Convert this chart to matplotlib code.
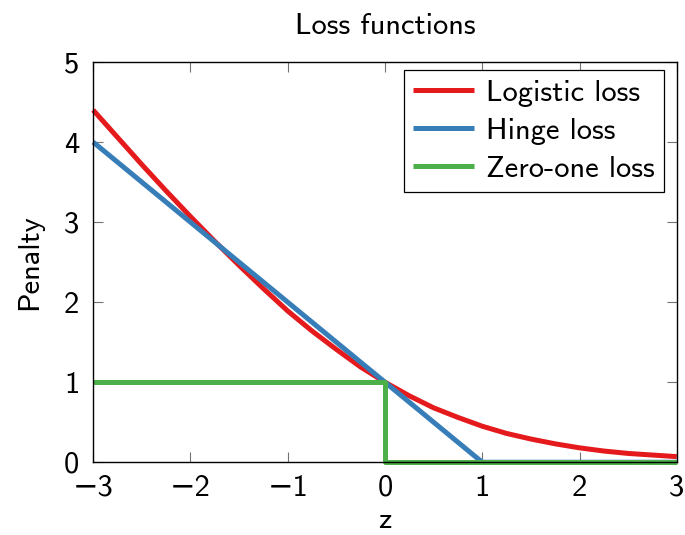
import matplotlib
matplotlib.use('Agg')
from matplotlib import pyplot as plt

plt.rcParams['font.family'] = ['cmss10', 'DejaVu Sans']
plt.rcParams['axes.unicode_minus'] = True
plt.rcParams['mathtext.fontset'] = 'cm'

# logistic loss
z_log = [-3, -2.75, -2.5, -2.25, -2, -1.75, -1.5, -1.25, -1, -0.75, -0.5, -0.25, 0,
         0.25, 0.5, 0.75, 1, 1.25, 1.5, 1.75, 2, 2.25, 2.5, 2.75, 3]
logistic = [4.40, 4.06, 3.72, 3.39, 3.07, 2.76, 2.46, 2.17, 1.89, 1.64, 1.41, 1.19, 1.00,
            0.83, 0.68, 0.56, 0.45, 0.36, 0.29, 0.23, 0.18, 0.14, 0.11, 0.09, 0.07]
z_hinge = [-3, 1, 3]
hinge = [4, 0, 0]
z_01 = [-3, 0, 0, 3]
zero_one = [1, 1, 0, 0]

fig = plt.figure(figsize=(6.85, 5.35), dpi=100)
ax = fig.add_axes([0.136, 0.136, 0.852, 0.748])

fs = 22
lw = 3.6
ax.plot(z_log, logistic, color='#e41a1c', lw=lw, label='Logistic loss', clip_on=False, solid_capstyle='butt')
ax.plot(z_hinge, hinge, color='#377eb8', lw=lw, label='Hinge loss', clip_on=False, solid_capstyle='butt')
ax.plot(z_01, zero_one, color='#4daf4a', lw=lw, label='Zero-one loss', clip_on=False, solid_capstyle='butt')

ax.set_xlim(-3, 3)
ax.set_ylim(0, 5)
ax.set_xticks([-3, -2, -1, 0, 1, 2, 3])
ax.set_yticks([0, 1, 2, 3, 4, 5])
ax.tick_params(direction='in', length=7, width=0.8, color='0.45', labelsize=fs,
               top=True, right=True)
ax.tick_params(axis='x', pad=9)
ax.tick_params(axis='y', pad=10)
for s in ax.spines.values():
    s.set_linewidth(1.0)

ax.set_title('Loss functions', fontsize=fs, pad=20)
ax.set_xlabel('z', fontsize=fs, labelpad=4)
ax.set_ylabel('Penalty', fontsize=fs, labelpad=15)

leg = ax.legend(loc='upper right', bbox_to_anchor=(0.978, 0.98), fontsize=fs,
                fancybox=False, framealpha=1, edgecolor='black', handlelength=2.0,
                handletextpad=0.4, borderpad=0.3, labelspacing=0.35, borderaxespad=0)
leg.get_frame().set_linewidth(0.9)

fig.savefig('out.png', dpi=100)
